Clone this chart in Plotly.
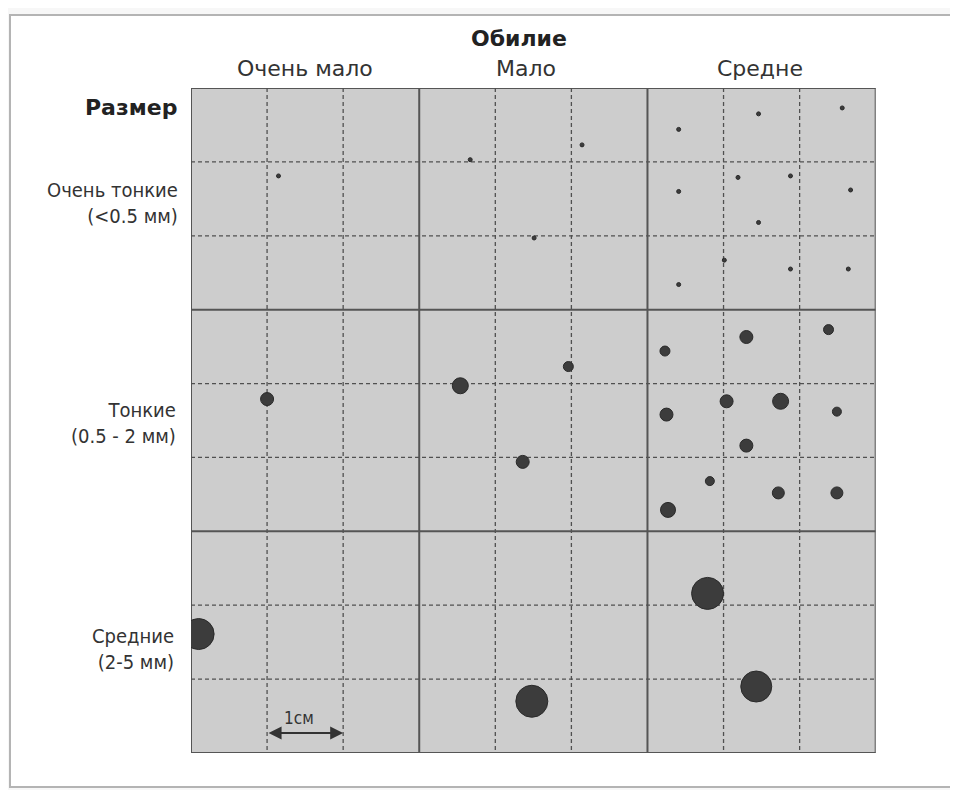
import plotly.graph_objects as go

# page offset: the figure div sits 8px inside the page body
OFF = 8
W, H = 958 - OFF, 790 - OFF

# ---- data ----
abundance_labels = ["Очень мало", "Мало", "Средне"]
size_labels = ["Очень тонкие<br>(<0.5 мм)", "Тонкие<br>(0.5 - 2 мм)", "Средние<br>(2-5 мм)"]

# very fine roots (<0.5 mm)
vf_x = [1.15, 3.67, 5.14, 4.51, 6.41, 7.46, 8.56, 6.41, 7.19, 7.88, 8.67, 7.46, 7.01, 7.88, 8.64, 6.41]
vf_y = [1.19, 0.97, 0.77, 2.03, 0.56, 0.35, 0.27, 1.40, 1.21, 1.19, 1.38, 1.82, 2.33, 2.45, 2.45, 2.66]
vf_d = [4] * len(vf_x)

# fine roots (0.5 - 2 mm)
f_x = [1.00, 3.54, 4.96, 4.36, 6.23, 7.30, 8.38, 6.25, 7.04, 7.75, 8.49, 7.30, 6.82, 7.72, 8.49, 6.27]
f_y = [4.21, 4.03, 3.77, 5.06, 3.56, 3.37, 3.27, 4.42, 4.24, 4.24, 4.38, 4.84, 5.32, 5.48, 5.48, 5.71]
f_d = [13, 16, 10, 13, 10, 13, 10, 13, 13, 16, 9, 13, 9, 12, 12, 15]

# medium roots (2-5 mm)
m_x = [0.10, 4.48, 6.79, 7.43]
m_y = [7.39, 8.30, 6.84, 8.10]
m_d = [31, 32, 32, 31]

# ---- geometry (page pixels) ----
PX0, PX1 = 191, 875.7
PY0, PY1 = 88, 753


def px(x):
    return (x - OFF) / W


def py(y):
    return 1 - (y - OFF) / H


fig = go.Figure()

for xs, ys, ds in [(vf_x, vf_y, vf_d), (f_x, f_y, f_d), (m_x, m_y, m_d)]:
    fig.add_trace(go.Scatter(
        x=xs, y=ys, mode="markers",
        marker=dict(size=ds, color="#3c3c3c", opacity=1, line=dict(color="#2a2a2a", width=1)),
        hoverinfo="skip", showlegend=False,
    ))

shapes = []
# outer frame
shapes.append(dict(type="rect", xref="paper", yref="paper",
                   x0=px(10), x1=px(955), y0=py(787), y1=py(15),
                   fillcolor="white", line=dict(color="#b4b4b4", width=2), layer="below"))
# cell background
shapes.append(dict(type="rect", xref="x", yref="y", x0=0, x1=9, y0=0, y1=9,
                   fillcolor="#cdcdcd", line=dict(width=0), layer="below"))
for i in range(10):
    if i % 3 == 0:
        ln = dict(color="#555555", width=2)
    else:
        ln = dict(color="#505050", width=1.3, dash="4px,3px")
    shapes.append(dict(type="line", xref="x", yref="y", x0=i, x1=i, y0=0, y1=9, line=ln, layer="below"))
    shapes.append(dict(type="line", xref="x", yref="y", x0=0, x1=9, y0=i, y1=i, line=ln, layer="below"))

font_main = "DejaVu Sans, Verdana, sans-serif"
font_cond = "DejaVu Sans Condensed, Liberation Sans Narrow, DejaVu Sans, sans-serif"

annotations = []
annotations.append(dict(text="<b>Обилие</b>", xref="paper", yref="paper", x=px(519), y=py(39),
                        showarrow=False, font=dict(family=font_main, size=22, color="#222"),
                        xanchor="center", yanchor="middle"))
col_centers = [304.5, 526, 759.5]
for lab, cx in zip(abundance_labels, col_centers):
    annotations.append(dict(text=lab, xref="paper", yref="paper", x=px(cx), y=py(69),
                            showarrow=False, font=dict(family=font_main, size=22, color="#333"),
                            xanchor="center", yanchor="middle"))
annotations.append(dict(text="<b>Размер</b>", xref="paper", yref="paper", x=px(179), y=py(108),
                        showarrow=False, font=dict(family=font_main, size=22, color="#222"),
                        xanchor="right", yanchor="middle"))
row_centers = [203, 423, 649]
row_right = [180, 178, 176]
for lab, cy, rx in zip(size_labels, row_centers, row_right):
    annotations.append(dict(text=lab, xref="paper", yref="paper", x=px(rx), y=py(cy),
                            showarrow=False, align="right",
                            font=dict(family=font_cond, size=20, color="#333"),
                            xanchor="right", yanchor="middle"))
# scale arrow 1 cm
annotations.append(dict(x=2, y=8.73, ax=1, ay=8.73, xref="x", yref="y", axref="x", ayref="y",
                        text="", showarrow=True, arrowside="end+start", arrowhead=2,
                        arrowsize=1.3, arrowwidth=2, arrowcolor="#333"))
annotations.append(dict(text="1см", x=1.42, y=8.53, xref="x", yref="y", showarrow=False,
                        font=dict(family=font_cond, size=17, color="#333"),
                        xanchor="center", yanchor="middle"))

fig.update_layout(
    width=W, height=H,
    margin=dict(l=0, r=0, t=0, b=0),
    paper_bgcolor="#f7f7f7", plot_bgcolor="rgba(0,0,0,0)",
    shapes=shapes, annotations=annotations,
    xaxis=dict(range=[0, 9], domain=[px(PX0), px(PX1)], visible=False, fixedrange=True),
    yaxis=dict(range=[9, 0], domain=[py(PY1), py(PY0)], visible=False, fixedrange=True),
)

fig.write_html("out.html")
